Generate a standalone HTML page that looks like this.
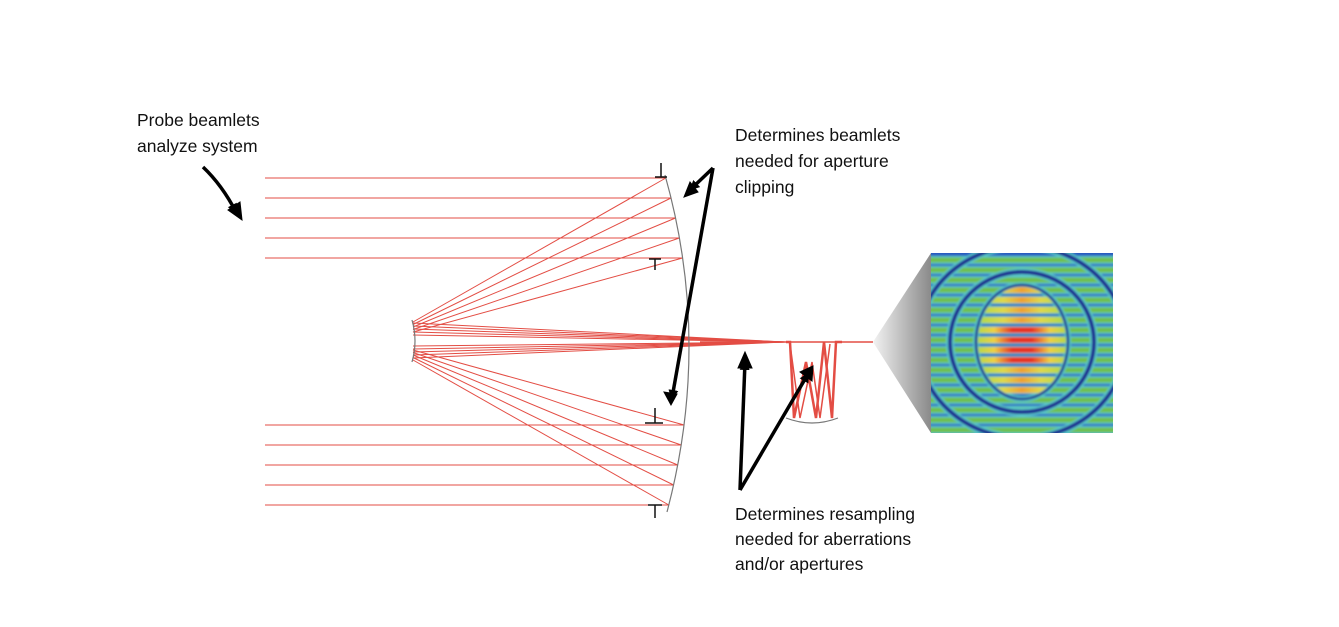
<!DOCTYPE html>
<html><head><meta charset="utf-8"><style>
html,body{margin:0;padding:0;background:#fff;}
svg{display:block;}
text{font-family:"Liberation Sans",Arial,sans-serif;font-size:17.5px;fill:#111;}
</style></head><body>
<svg id="s" width="1339" height="627" viewBox="0 0 1339 627" xmlns="http://www.w3.org/2000/svg">
<defs>
<linearGradient id="fan" x1="0" x2="1" y1="0" y2="0"><stop offset="0" stop-color="#f2f2f2"/><stop offset="1" stop-color="#8a8a8a"/></linearGradient>
<linearGradient id="hot" x1="0" x2="1" y1="0" y2="0"><stop offset="0" stop-color="#b0d848"/><stop offset="0.2" stop-color="#f0d040"/><stop offset="0.4" stop-color="#e83020"/><stop offset="0.6" stop-color="#e83020"/><stop offset="0.8" stop-color="#f0d040"/><stop offset="1" stop-color="#b0d848"/></linearGradient>
<linearGradient id="warm" x1="0" x2="1" y1="0" y2="0"><stop offset="0" stop-color="#a8d848"/><stop offset="0.3" stop-color="#e0d848"/><stop offset="0.5" stop-color="#f0a030"/><stop offset="0.7" stop-color="#e0d848"/><stop offset="1" stop-color="#a8d848"/></linearGradient>
<clipPath id="box"><rect x="931" y="253" width="182" height="180"/></clipPath>
<clipPath id="inner"><ellipse cx="1022" cy="342" rx="44" ry="55"/></clipPath>
<filter id="bl"><feGaussianBlur stdDeviation="1"/></filter>
<marker id="ah" markerWidth="10" markerHeight="10" refX="8" refY="5" orient="auto" markerUnits="userSpaceOnUse" viewBox="0 0 10 10"><path d="M0,0 L10,5 L0,10 Z" fill="#000"/></marker>
</defs>
<g id="rays" stroke="#e03a30" stroke-width="1" fill="none" opacity="0.9"></g>
<path d="M665,175 Q712,342 667,512" stroke="#777" stroke-width="1.2" fill="none"/>
<path d="M412,320 Q418,341 412,362" stroke="#777" stroke-width="1.2" fill="none"/>
<path d="M786,418 Q812,428 838,418" stroke="#777" stroke-width="1.2" fill="none"/>
<g stroke="#111" stroke-width="1.5">
<line x1="655" y1="177" x2="667" y2="177"/><line x1="661" y1="163" x2="661" y2="177"/>
<line x1="649" y1="259" x2="661" y2="259"/><line x1="655" y1="259" x2="655" y2="270"/>
<line x1="645" y1="423" x2="663" y2="423"/><line x1="655" y1="408" x2="655" y2="423"/>
<line x1="648" y1="505" x2="662" y2="505"/><line x1="655" y1="505" x2="655" y2="518"/>
</g>
<polygon points="873,342 931,253 931,433" fill="url(#fan)"/>
<g clip-path="url(#box)"><g id="pat" filter="url(#bl)"><rect x="925" y="248" width="195" height="190" fill="#2a5cc0"/></g></g>
<g stroke="#000" stroke-width="3.5" fill="none">
<path d="M203,167 Q222,185 236,212" marker-end="url(#ah)"/>
<path d="M713,168 L691,189" marker-end="url(#ah)"/>
<path d="M713,168 L672,398" marker-end="url(#ah)"/>
<path d="M740,490 L745,362" marker-end="url(#ah)"/>
<path d="M740,490 L808,374" marker-end="url(#ah)"/>
</g>
<g stroke="#000" stroke-width="1" fill="#000">
<polygon points="242,220 228,210 240,202"/>
<polygon points="684,197 690,182 698,192"/>
<polygon points="671,405 664,392 677,394"/>
<polygon points="745,352 738,368 752,368"/>
<polygon points="813,366 800,372 812,381"/>
</g>
<text x="137" y="126">Probe beamlets</text>
<text x="137" y="152">analyze system</text>
<text x="735" y="141">Determines beamlets</text>
<text x="735" y="167">needed for aperture</text>
<text x="735" y="193">clipping</text>
<text x="735" y="520">Determines resampling</text>
<text x="735" y="545">needed for aberrations</text>
<text x="735" y="570">and/or apertures</text>
</svg>
<script>
var NS="http://www.w3.org/2000/svg";
function el(p,t,a){var e=document.createElementNS(NS,t);for(var k in a)e.setAttribute(k,a[k]);p.appendChild(e);return e;}
var r=document.getElementById("rays");
function mx(y){var t=(y-175)/337;return (1-t)*(1-t)*665+2*t*(1-t)*712+t*t*667;}
var tops=[178,198,218,238,258],bots=[425,445,465,485,505];
tops.forEach(function(y,i){var x=mx(y);el(r,"line",{x1:265,y1:y,x2:x,y2:y});
 el(r,"line",{x1:x,y1:y,x2:413,y2:322+i*2.5});});
bots.forEach(function(y,i){var x=mx(y);el(r,"line",{x1:265,y1:y,x2:x,y2:y});
 el(r,"line",{x1:x,y1:y,x2:413,y2:350+i*2.5});});
for(var i=0;i<5;i++){el(r,"line",{x1:413,y1:323+i*3,x2:785,y2:342});el(r,"line",{x1:413,y1:346+i*3,x2:785,y2:342});}
el(r,"line",{x1:700,y1:342,x2:873,y2:342,"stroke-width":1.5});
el(r,"path",{d:"M786,342 L790,342 L794,418 L806,362 L816,418 L824,342 L832,418 L836,342 L842,342","stroke-width":2.5});
el(r,"path",{d:"M790,344 L800,418 L812,362 L820,418 L830,344","stroke-width":1.5});
var p=document.getElementById("pat");
for(var y=256;y<436;y+=10){el(p,"rect",{x:922,y:y,width:200,height:8,rx:4,fill:"#58c8c8"});el(p,"rect",{x:922,y:y+1.5,width:200,height:5,rx:2.5,fill:"#70c050"});}
[[104,96],[72,70]].forEach(function(a){el(p,"ellipse",{cx:1022,cy:342,rx:a[0],ry:a[1],fill:"none",stroke:"#58c8c8","stroke-width":8});el(p,"ellipse",{cx:1022,cy:342,rx:a[0],ry:a[1],fill:"none",stroke:"#1c2890","stroke-width":4});});
el(p,"ellipse",{cx:1022,cy:342,rx:46,ry:57,fill:"none",stroke:"#58c8c8","stroke-width":6});
el(p,"ellipse",{cx:1022,cy:342,rx:46,ry:57,fill:"none",stroke:"#1c2890","stroke-width":2.5});
var g=el(p,"g",{"clip-path":"url(#inner)"});
for(var y=286;y<400;y+=10){var c=Math.abs(y+4-342)<22?"url(#hot)":"url(#warm)";el(g,"rect",{x:976,y:y+1,width:92,height:6,rx:3,fill:c});}
</script>
</body></html>
